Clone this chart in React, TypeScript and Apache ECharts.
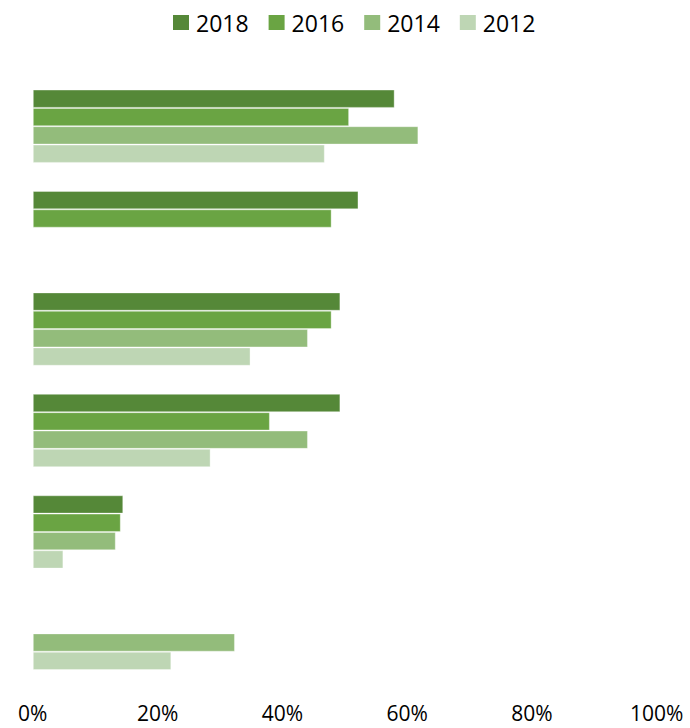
import React, { useEffect, useRef } from "react";
import * as echarts from "echarts";

const categories = ["Item 1", "Item 2", "Item 3", "Item 4", "Item 5", "Item 6"];
const seriesNames = ["2018", "2016", "2014", "2012"];
const values2018: (number | null)[] = [58.0, 52.2, 49.3, 49.3, 14.5, null];
const values2016: (number | null)[] = [50.7, 47.9, 47.9, 38.0, 14.1, null];
const values2014: (number | null)[] = [61.8, null, 44.1, 44.1, 13.3, 32.4];
const values2012: (number | null)[] = [46.8, null, 34.9, 28.5, 4.9, 22.2];
const xTicks = [0, 20, 40, 60, 80, 100];

const colors = ["#558838", "#6AA443", "#93BC7B", "#BED6B4"];

export default function App() {
  const ref = useRef<HTMLDivElement>(null);
  useEffect(() => {
    if (!ref.current) return;
    const chart = echarts.init(ref.current, undefined, { renderer: "svg" });
    const data = [values2018, values2016, values2014, values2012];
    chart.setOption({
      animation: false,
      textStyle: { fontFamily: "Open Sans" },
      legend: {
        data: seriesNames,
        left: 173,
        top: 11,
        padding: 0,
        itemWidth: 16,
        itemHeight: 15,
        itemGap: 20,
        icon: "rect",
        itemStyle: { borderWidth: 0 },
        textStyle: { fontSize: 23, color: "#000", fontFamily: "Open Sans", padding: [0, 0, 0, 2] },
      },
      grid: {
        left: 32.8,
        right: 33.3,
        top: 75.5,
        bottom: 43.9,
        containLabel: false,
        outerBoundsMode: "none",
      },
      xAxis: {
        type: "value",
        min: xTicks[0],
        max: xTicks[xTicks.length - 1],
        interval: 20,
        axisLine: { show: false },
        axisTick: { show: false },
        splitLine: { show: false },
        axisLabel: {
          formatter: (v: number) => `${v}%`,
          fontSize: 21,
          lineHeight: 18,
          color: "#000",
          margin: 20,
          fontFamily: "Open Sans",
        },
      },
      yAxis: {
        type: "category",
        data: categories,
        inverse: true,
        axisLine: { show: false },
        axisTick: { show: false },
        axisLabel: { show: false },
        splitLine: { show: false },
      },
      series: seriesNames.map((name, i) => ({
        name,
        type: "bar",
        data: data[i],
        barGap: 0,
        barCategoryGap: "27.7%",
        itemStyle: {
          color: colors[i],
          borderColor: "rgba(255,255,255,0.35)",
          borderWidth: 1,
        },
      })),
    });
    return () => chart.dispose();
  }, []);
  return <div ref={ref} style={{ width: 690, height: 728, position: "absolute", left: 0, top: 0 }} />;
}
